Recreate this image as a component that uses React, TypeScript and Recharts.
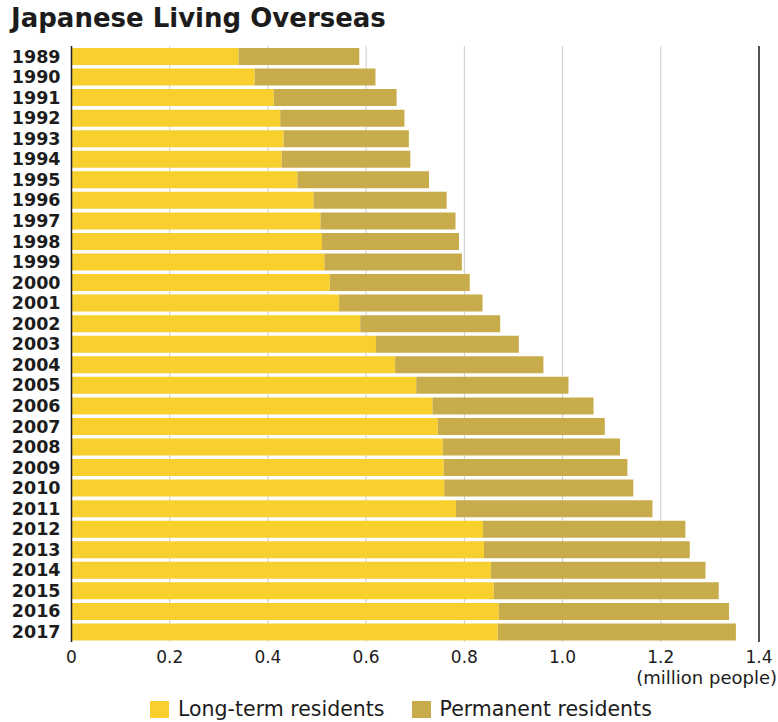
import React from 'react';
import { BarChart, Bar, XAxis, YAxis, CartesianGrid, ReferenceLine } from 'recharts';

// Japanese nationals living abroad, in millions of people
const years = [
  '1989', '1990', '1991', '1992', '1993', '1994', '1995', '1996', '1997', '1998',
  '1999', '2000', '2001', '2002', '2003', '2004', '2005', '2006', '2007', '2008',
  '2009', '2010', '2011', '2012', '2013', '2014', '2015', '2016', '2017',
];
const longTermResidents = [
  0.340, 0.373, 0.412, 0.425, 0.432, 0.428, 0.460, 0.493, 0.507, 0.510,
  0.515, 0.526, 0.545, 0.588, 0.620, 0.659, 0.702, 0.735, 0.746, 0.756,
  0.758, 0.759, 0.783, 0.838, 0.840, 0.854, 0.860, 0.870, 0.868,
];
const permanentResidents = [
  0.246, 0.246, 0.250, 0.253, 0.255, 0.262, 0.268, 0.271, 0.275, 0.279,
  0.280, 0.285, 0.292, 0.285, 0.291, 0.302, 0.310, 0.328, 0.340, 0.361,
  0.374, 0.385, 0.400, 0.412, 0.419, 0.437, 0.458, 0.469, 0.485,
];
const xTicks = [0, 0.2, 0.4, 0.6, 0.8, 1.0, 1.2, 1.4];
const xTickLabels = ['0', '0.2', '0.4', '0.6', '0.8', '1.0', '1.2', '1.4'];

const series = [
  { key: 'longTerm', name: 'Long-term residents', color: '#F8CF2C' },
  { key: 'permanent', name: 'Permanent residents', color: '#C8AC4B' },
];

const data = years.map((year, i) => ({
  year,
  longTerm: longTermResidents[i],
  permanent: permanentResidents[i],
}));

const FONT = '"DejaVu Sans", "Liberation Sans", Arial, sans-serif';
const INK = '#1c1c1c';

const YearTick = (props: any) => {
  const { x, y, payload } = props;
  return (
    <text x={x} y={y} dy="0.36em" textAnchor="end" fontSize={17.5} fontWeight="bold" fill={INK} fontFamily={FONT}>
      {payload.value}
    </text>
  );
};

const ValueTick = (props: any) => {
  const { x, y, payload } = props;
  const idx = xTicks.indexOf(payload.value);
  return (
    <text x={x} y={y} dy="0.71em" textAnchor="middle" fontSize={17} fill={INK} fontFamily={FONT}>
      {idx >= 0 ? xTickLabels[idx] : payload.value}
    </text>
  );
};

const UnitLabel = (props: any) => {
  const { viewBox } = props;
  const right = viewBox.x + viewBox.width + 18;
  return (
    <text x={right} y={viewBox.y + 29} dy="0.71em" textAnchor="end" fontSize={18} fill={INK} fontFamily={FONT}>
      (million people)
    </text>
  );
};

export default function App() {
  return (
    <div style={{ position: 'relative', width: 778, height: 722, background: '#fff', fontFamily: FONT, overflow: 'hidden' }}>
      <style>{'body{margin:0;background:#fff}'}</style>
      <div
        style={{
          position: 'absolute',
          left: 11,
          top: 3,
          fontSize: 26,
          fontWeight: 'bold',
          color: INK,
          whiteSpace: 'nowrap',
          lineHeight: '30px',
        }}
      >
        Japanese Living Overseas
      </div>
      <div style={{ position: 'absolute', left: 0, top: 0 }}>
        <BarChart
          width={778}
          height={722}
          data={data}
          layout="vertical"
          margin={{ top: 46, right: 19, bottom: 20, left: 0 }}
        >
          <CartesianGrid horizontal={false} stroke="#cccccc" strokeWidth={1} />
          <XAxis
            type="number"
            domain={[0, 1.4]}
            ticks={xTicks}
            axisLine={false}
            tickLine={false}
            tickSize={0}
            tickMargin={9}
            height={60}
            tick={<ValueTick />}
            interval={0}
            label={<UnitLabel />}
          />
          <YAxis
            type="category"
            dataKey="year"
            width={71.5}
            axisLine={{ stroke: '#222', strokeWidth: 1.5 }}
            tickLine={false}
            tickSize={0}
            tickMargin={11}
            tick={<YearTick />}
            interval={0}
          />
          {series.map((s) => (
            <Bar
              key={s.key}
              dataKey={s.key}
              name={s.name}
              stackId="residents"
              fill={s.color}
              barSize={17}
              isAnimationActive={false}
            />
          ))}
          <ReferenceLine x={1.4} stroke="#222" strokeWidth={1.5} />
        </BarChart>
      </div>
      <div
        style={{
          position: 'absolute',
          left: 150,
          top: 697,
          display: 'flex',
          alignItems: 'center',
          fontSize: 20.5,
          color: INK,
          whiteSpace: 'nowrap',
        }}
      >
        {series.map((s, i) => (
          <div key={s.key} style={{ display: 'flex', alignItems: 'center', marginLeft: i === 0 ? 0 : 27 }}>
            <span style={{ display: 'inline-block', width: 19, height: 17, background: s.color, marginRight: 9 }} />
            <span>{s.name}</span>
          </div>
        ))}
      </div>
    </div>
  );
}
